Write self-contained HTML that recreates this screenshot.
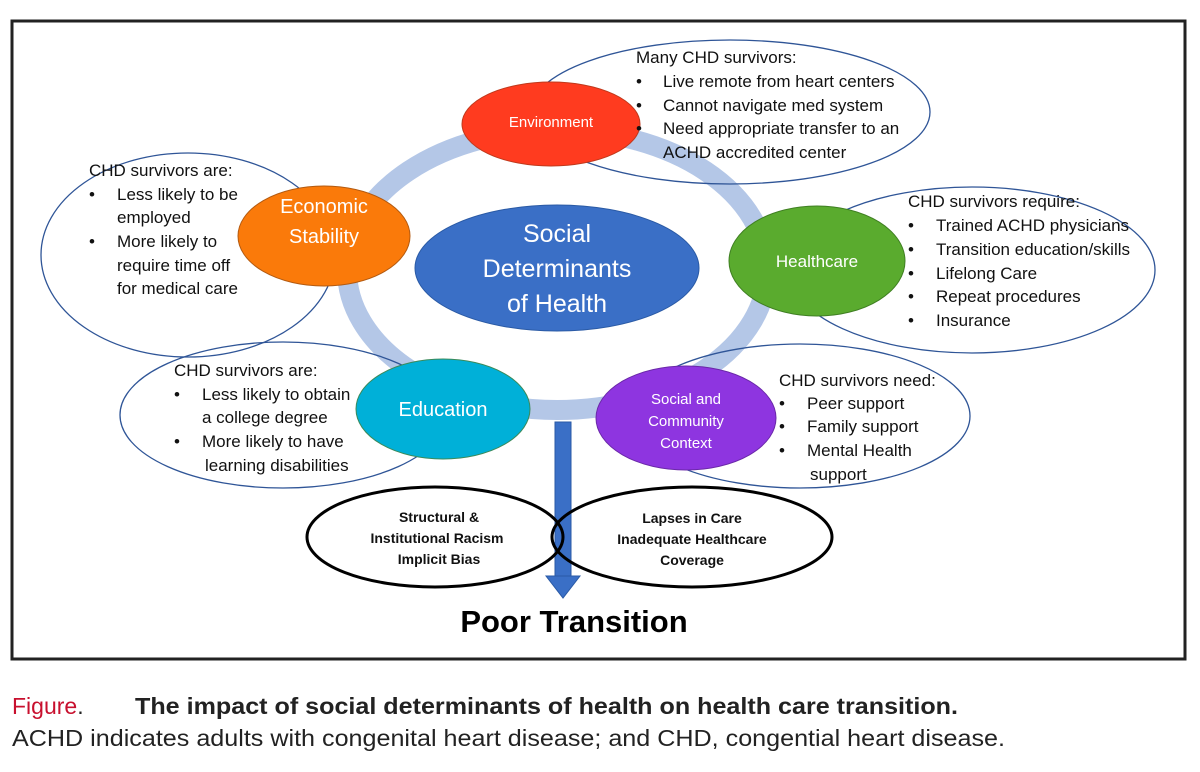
<!DOCTYPE html>
<html><head><meta charset="utf-8"><style>
html,body{margin:0;padding:0;background:#fff;}
body{width:1200px;height:767px;overflow:hidden;font-family:"Liberation Sans",sans-serif;}
</style></head><body>
<svg width="1200" height="767" xmlns="http://www.w3.org/2000/svg" font-family="Liberation Sans, sans-serif">
<rect x="12" y="21" width="1173" height="638" fill="#fff" stroke="#222" stroke-width="3"/>
<ellipse cx="557" cy="270" rx="210" ry="140" fill="none" stroke="#b4c7e7" stroke-width="20"/>
<g fill="none" stroke="#2f5597" stroke-width="1.3">
<ellipse cx="730" cy="112" rx="200" ry="72"/>
<ellipse cx="188" cy="255" rx="147" ry="102"/>
<ellipse cx="972" cy="270" rx="183" ry="83"/>
<ellipse cx="283" cy="415" rx="163" ry="73"/>
<ellipse cx="800" cy="416" rx="170" ry="72"/>
</g>
<ellipse cx="551" cy="124" rx="89" ry="42" fill="#ff3b1f" stroke="#c0391c"/>
<ellipse cx="324" cy="236" rx="86" ry="50" fill="#fa7a0a" stroke="#b35a10"/>
<ellipse cx="557" cy="268" rx="142" ry="63" fill="#3a6fc6" stroke="#2a5aa5"/>
<ellipse cx="817" cy="261" rx="88" ry="55" fill="#5aab2e" stroke="#3f7f22"/>
<ellipse cx="443" cy="409" rx="87" ry="50" fill="#00b0d8" stroke="#3a8a5a"/>
<ellipse cx="686" cy="418" rx="90" ry="52" fill="#8e35e0" stroke="#6a28a8"/>
<rect x="555" y="422" width="16" height="155" fill="#3a6fc6" stroke="#2a5aa5"/>
<polygon points="546,576 580,576 563,598" fill="#3a6fc6" stroke="#2a5aa5"/>
<ellipse cx="435" cy="537" rx="128" ry="50" fill="none" stroke="#000" stroke-width="3"/>
<ellipse cx="692" cy="537" rx="140" ry="50" fill="none" stroke="#000" stroke-width="3"/>
<g fill="#fff" text-anchor="middle">
<text x="551" y="127" font-size="15">Environment</text>
<text x="324" y="213" font-size="20">Economic</text>
<text x="324" y="243" font-size="20">Stability</text>
<text x="557" y="242" font-size="25">Social</text>
<text x="557" y="277" font-size="25">Determinants</text>
<text x="557" y="312" font-size="25">of Health</text>
<text x="817" y="267" font-size="17">Healthcare</text>
<text x="443" y="416" font-size="20">Education</text>
<text x="686" y="404" font-size="15">Social and</text>
<text x="686" y="426" font-size="15">Community</text>
<text x="686" y="448" font-size="15">Context</text>
</g>
<g font-size="17" fill="#111">
<text x="636" y="63">Many CHD survivors:</text>
<text x="636" y="87">•</text><text x="663" y="87">Live remote from heart centers</text>
<text x="636" y="111">•</text><text x="663" y="111">Cannot navigate med system</text>
<text x="636" y="134">•</text><text x="663" y="134">Need appropriate transfer to an</text>
<text x="663" y="158">ACHD accredited  center</text>

<text x="89" y="176">CHD survivors are:</text>
<text x="89" y="200">•</text><text x="117" y="200">Less likely to be</text>
<text x="117" y="223">employed</text>
<text x="89" y="247">•</text><text x="117" y="247">More likely to</text>
<text x="117" y="271">require time off</text>
<text x="117" y="294">for medical care</text>

<text x="908" y="207">CHD survivors require:</text>
<text x="908" y="231">•</text><text x="936" y="231">Trained ACHD physicians</text>
<text x="908" y="255">•</text><text x="936" y="255">Transition education/skills</text>
<text x="908" y="279">•</text><text x="936" y="279">Lifelong Care</text>
<text x="908" y="302">•</text><text x="936" y="302">Repeat procedures</text>
<text x="908" y="326">•</text><text x="936" y="326">Insurance</text>

<text x="174" y="376">CHD survivors are:</text>
<text x="174" y="400">•</text><text x="202" y="400">Less likely to obtain</text>
<text x="202" y="423">a college degree</text>
<text x="174" y="447">•</text><text x="202" y="447">More likely to have</text>
<text x="205" y="471">learning disabilities</text>

<text x="779" y="386">CHD survivors need:</text>
<text x="779" y="409">•</text><text x="807" y="409">Peer support</text>
<text x="779" y="432">•</text><text x="807" y="432">Family support</text>
<text x="779" y="456">•</text><text x="807" y="456">Mental Health</text>
<text x="810" y="480">support</text>
</g>
<g font-size="14" font-weight="bold" text-anchor="middle" fill="#111">
<text x="439" y="522">Structural &amp;</text>
<text x="437" y="543">Institutional Racism</text>
<text x="439" y="564">Implicit Bias</text>
<text x="692" y="523">Lapses in Care</text>
<text x="692" y="544">Inadequate Healthcare</text>
<text x="692" y="565">Coverage</text>
</g>
<text x="574" y="632" font-size="31" font-weight="bold" text-anchor="middle" fill="#000">Poor Transition</text>
<text x="12" y="714" font-size="23" fill="#c8102e">Figure<tspan fill="#222">.</tspan></text>
<text x="135" y="714" font-size="23" font-weight="bold" fill="#222" textLength="823" lengthAdjust="spacingAndGlyphs">The impact of social determinants of health on health care transition.</text>
<text x="12" y="746" font-size="23" fill="#222" textLength="993" lengthAdjust="spacingAndGlyphs">ACHD indicates adults with congenital heart disease; and CHD, congential heart disease.</text>
</svg>
</body></html>
